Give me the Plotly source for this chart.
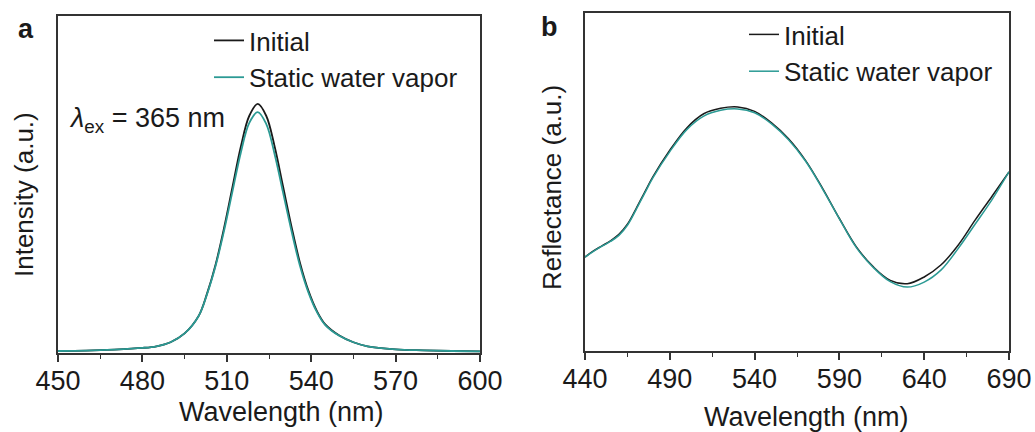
import plotly.graph_objects as go

# ---- Panel a: photoluminescence ----
wl_a = [450, 460, 470, 480, 485, 490, 495, 500, 503, 506, 509, 512, 515, 518, 521,
        524, 527, 530, 533, 536, 539, 542, 545, 550, 555, 560, 570, 580, 590, 600]
int_initial = [0.006, 0.007, 0.010, 0.015, 0.020, 0.032, 0.058, 0.110, 0.177, 0.262, 0.370,
               0.492, 0.613, 0.704, 0.739, 0.704, 0.613, 0.494, 0.375, 0.268, 0.185, 0.125,
               0.085, 0.052, 0.032, 0.020, 0.011, 0.008, 0.006, 0.005]
int_static = [0.006, 0.007, 0.010, 0.015, 0.020, 0.032, 0.058, 0.110, 0.175, 0.258, 0.362,
              0.479, 0.595, 0.683, 0.715, 0.680, 0.590, 0.476, 0.362, 0.259, 0.180, 0.122,
              0.083, 0.051, 0.032, 0.020, 0.011, 0.008, 0.006, 0.005]

# ---- Panel b: reflectance ----
wl_b = [440, 445, 450, 455, 460, 465, 470, 475, 480, 490, 500, 510, 520, 530, 540, 550, 560, 570,
        580, 590, 600, 610, 620, 630, 640, 650, 660, 670, 680, 690]
ref_initial = [0.278, 0.296, 0.311, 0.326, 0.345, 0.375, 0.420, 0.468, 0.515, 0.594, 0.660,
               0.702, 0.718, 0.722, 0.709, 0.675, 0.628, 0.564, 0.482, 0.392, 0.308, 0.249,
               0.209, 0.199, 0.219, 0.255, 0.313, 0.387, 0.458, 0.530]
ref_static = [0.278, 0.295, 0.310, 0.324, 0.342, 0.372, 0.417, 0.465, 0.512, 0.590, 0.655,
              0.695, 0.712, 0.716, 0.705, 0.672, 0.625, 0.562, 0.480, 0.391, 0.306, 0.247,
              0.205, 0.189, 0.204, 0.240, 0.303, 0.375, 0.448, 0.530]

BLACK = "#1a1a1a"
TEAL = "#2b9a94"
FONT = "Liberation Sans, Arial, sans-serif"

fig = go.Figure()
fig.add_trace(go.Scatter(x=wl_a, y=int_initial, mode="lines", name="Initial",
                         line=dict(color=BLACK, width=1.8, shape="spline"),
                         xaxis="x", yaxis="y", legend="legend"))
fig.add_trace(go.Scatter(x=wl_a, y=int_static, mode="lines", name="Static water vapor",
                         line=dict(color=TEAL, width=1.8, shape="spline"),
                         xaxis="x", yaxis="y", legend="legend"))
fig.add_trace(go.Scatter(x=wl_b, y=ref_initial, mode="lines", name="Initial",
                         line=dict(color=BLACK, width=1.5, shape="spline"),
                         xaxis="x2", yaxis="y2", legend="legend2"))
fig.add_trace(go.Scatter(x=wl_b, y=ref_static, mode="lines", name="Static water vapor",
                         line=dict(color=TEAL, width=1.5, shape="spline"),
                         xaxis="x2", yaxis="y2", legend="legend2"))

W, H = 1035, 432
axis_common = dict(showline=True, linecolor="#333333", linewidth=1.5, mirror=True,
                   showgrid=False, zeroline=False, automargin=False)

fig.update_layout(
    template="none",
    width=W, height=H,
    margin=dict(l=0, r=0, t=0, b=0, autoexpand=False),
    paper_bgcolor="white", plot_bgcolor="white",
    font=dict(family=FONT, color="#1a1a1a"),
    xaxis=dict(domain=[58 / W, 480 / W], range=[450, 600], tickmode="linear", tick0=450, dtick=30,
               ticks="outside", ticklen=7, tickwidth=1.5, tickcolor="#333333",
               tickfont=dict(size=27), ticklabelstandoff=-4,
               minor=dict(ticks="outside", ticklen=4, tickwidth=1.2, tickcolor="#333333",
                          tick0=450, dtick=15, showgrid=False),
               anchor="y", **axis_common),
    yaxis=dict(domain=[(H - 353) / H, (H - 16) / H], range=[0, 1], showticklabels=False,
               ticks="", anchor="x", **axis_common),
    xaxis2=dict(domain=[585 / W, 1009 / W], range=[440, 690], tickmode="linear", tick0=440, dtick=50,
                ticks="outside", ticklen=7, tickwidth=1.5, tickcolor="#333333",
                tickfont=dict(size=27), ticklabelstandoff=-4,
                minor=dict(ticks="outside", ticklen=4, tickwidth=1.2, tickcolor="#333333",
                           tick0=440, dtick=25, showgrid=False),
                anchor="y2", **axis_common),
    yaxis2=dict(domain=[(H - 351) / H, (H - 13) / H], range=[0, 1], showticklabels=False,
                ticks="", anchor="x2", **axis_common),
    legend=dict(x=209 / W, y=1 - 17 / H, xanchor="left", yanchor="top",
                bgcolor="rgba(0,0,0,0)", font=dict(size=26), tracegroupgap=0,
                itemwidth=30),
    legend2=dict(x=744 / W, y=1 - 11 / H, xanchor="left", yanchor="top",
                 bgcolor="rgba(0,0,0,0)", font=dict(size=26), tracegroupgap=0,
                 itemwidth=30),
    showlegend=True,
)

annotations = [
    dict(text="<b>a</b>", x=26 / W, y=1 - 29 / H, xref="paper", yref="paper",
         showarrow=False, font=dict(size=27), xanchor="center", yanchor="middle"),
    dict(text="<b>b</b>", x=549 / W, y=1 - 27 / H, xref="paper", yref="paper",
         showarrow=False, font=dict(size=27), xanchor="center", yanchor="middle"),
    dict(text="<i>λ</i><sub>ex</sub> = 365 nm", x=67 / W, y=1 - 120 / H, xref="paper", yref="paper",
         showarrow=False, font=dict(size=27), xanchor="left", yanchor="middle"),
    dict(text="Wavelength (nm)", x=281 / W, y=1 - 412 / H, xref="paper", yref="paper",
         showarrow=False, font=dict(size=27), xanchor="center", yanchor="middle"),
    dict(text="Wavelength (nm)", x=806 / W, y=1 - 417 / H, xref="paper", yref="paper",
         showarrow=False, font=dict(size=27), xanchor="center", yanchor="middle"),
    dict(text="Intensity (a.u.)", x=24 / W, y=1 - 195 / H, xref="paper", yref="paper",
         showarrow=False, font=dict(size=26), textangle=-90, xanchor="center", yanchor="middle"),
    dict(text="Reflectance (a.u.)", x=552 / W, y=1 - 188 / H, xref="paper", yref="paper",
         showarrow=False, font=dict(size=26), textangle=-90, xanchor="center", yanchor="middle"),
]
fig.update_layout(annotations=annotations)

fig.write_html("out.html", config={"displayModeBar": False},
               post_script="document.body.style.margin='0';document.body.style.overflow='hidden';")
